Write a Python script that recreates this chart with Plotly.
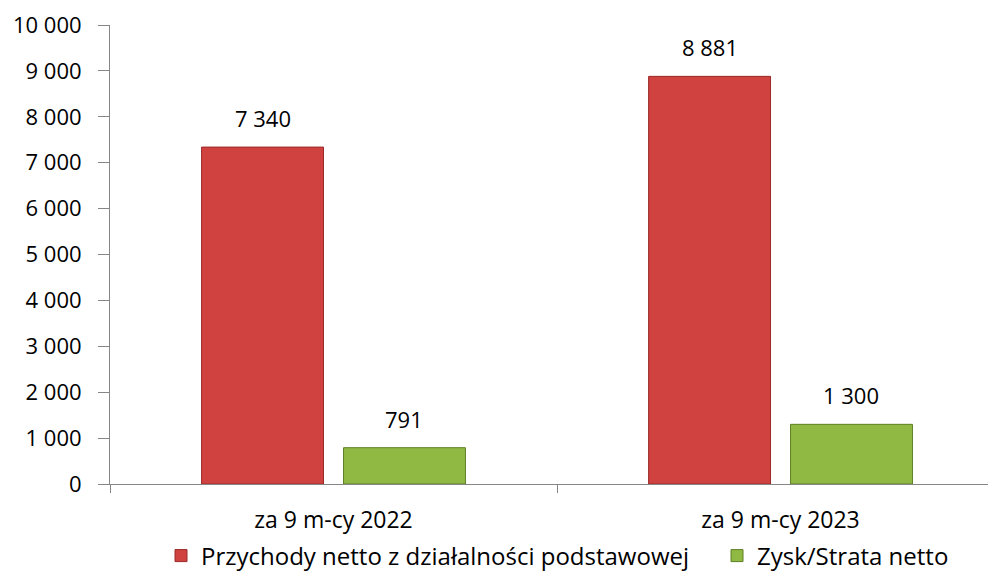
import plotly.graph_objects as go

categories = ["za 9 m-cy 2022", "za 9 m-cy 2023"]
series_names = ["Przychody netto z działalności podstawowej", "Zysk/Strata netto"]
revenue = [7340, 8881]
profit = [791, 1300]
y_ticks = list(range(0, 10001, 1000))
y_tick_labels = [f"{v:,}".replace(",", " ") for v in y_ticks]

def fmt(v):
    return f"{v:,}".replace(",", " ")

FONT = "Open Sans"
FS_NUM = 22
FS_TXT = 23
FS_LEG = 24

# page body has an 8px margin; compensate so the plot lands where the reference's does
W, H = 988, 569
ML, MT, MB, MR = 102, 17, 93, 0
XR = [-0.5, 1.482]
BARGAP, GROUPGAP = 0.365, 0.141

plot_w = W - ML - MR
cat_px = plot_w / (XR[1] - XR[0])
slot_px = cat_px * (1 - BARGAP) / 2
offsets = [-slot_px / 2, slot_px / 2]

series = [revenue, profit]
colors = ["#cf4240", "#90b944"]
line_colors = ["#9a2a28", "#5e7f24"]

fig = go.Figure()
for i, (vals, name) in enumerate(zip(series, series_names)):
    fig.add_trace(go.Bar(
        x=categories, y=vals, name=name,
        marker=dict(color=colors[i], line=dict(color=line_colors[i], width=1)),
        legend="legend" if i == 0 else "legend2",
    ))
    for c, v in zip(categories, vals):
        fig.add_annotation(x=c, y=v, xref="x", yref="y", text=fmt(v), showarrow=False,
                           xshift=offsets[i], yshift=12, yanchor="bottom",
                           font=dict(family=FONT, size=FS_NUM, color="#000000"))

leg_common = dict(orientation="h", xref="container", xanchor="left",
                  yref="container", y=21 / H, yanchor="middle",
                  font=dict(family=FONT, size=FS_LEG, color="#000000"),
                  itemwidth=30, bgcolor="rgba(0,0,0,0)")

fig.update_layout(
    width=W, height=H,
    margin=dict(l=ML, r=MR, t=MT, b=MB, autoexpand=False),
    paper_bgcolor="white", plot_bgcolor="white",
    font=dict(family=FONT, size=FS_NUM, color="#000000"),
    barmode="group", bargap=BARGAP, bargroupgap=GROUPGAP,
    showlegend=True,
    legend=dict(x=153 / W, **leg_common),
    legend2=dict(x=709 / W, **leg_common),
    xaxis=dict(range=XR, showline=True, linecolor="#868686", linewidth=1,
               ticks="outside", tickson="boundaries", ticklen=8, tickcolor="#868686",
               showgrid=False, zeroline=False, ticklabelstandoff=15,
               tickfont=dict(family=FONT, size=FS_TXT)),
    yaxis=dict(range=[0, 10000], tickvals=y_ticks, ticktext=y_tick_labels,
               showline=True, linecolor="#868686", linewidth=1,
               ticks="outside", ticklen=11, tickcolor="#868686",
               showgrid=False, zeroline=False, ticklabelstandoff=12,
               tickfont=dict(family=FONT, size=FS_NUM)),
    yaxis2=dict(overlaying="y", matches="y", side="left", anchor="x",
                tickvals=y_ticks, ticks="inside", ticklen=8, tickcolor="#868686",
                showticklabels=False, showline=False, showgrid=False, zeroline=False),
)

fig.write_html("out.html")
